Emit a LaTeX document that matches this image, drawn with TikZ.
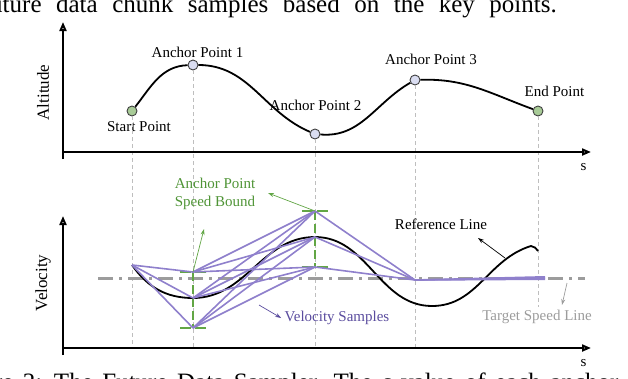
\documentclass[tikz,border=0pt]{standalone}
\usepackage{fontspec}
\setmainfont{Liberation Serif}
\usetikzlibrary{arrows.meta,positioning}
\definecolor{Lavender}{HTML}{DADDF1}
\definecolor{Sage}{HTML}{A8CB97}
\definecolor{BoundGreen}{HTML}{62A645}
\definecolor{BoundText}{HTML}{4F9436}
\definecolor{SampleViolet}{HTML}{8F80CC}
\definecolor{SampleText}{HTML}{5A4C9E}
\definecolor{TargetGray}{HTML}{9C9C9C}
\definecolor{GuideGray}{HTML}{BEBEBE}

\begin{document}
\begin{tikzpicture}[x=1pt,y=-1pt,font=\fontsize{15}{18}\selectfont,
    axis/.style={line width=2pt,-{Triangle[open,length=9pt,width=7pt]}},
    axislbl/.style={rotate=90,font=\fontsize{17}{20}\selectfont},
    keypt/.style={circle,draw=black!75,line width=0.9pt,minimum size=10pt,inner sep=0pt},
    guide/.style={GuideGray,line width=0.7pt,dash pattern=on 4pt off 3pt},
    sample/.style={SampleViolet,line width=1.6pt},
    bound/.style={BoundGreen,line width=2pt,dash pattern=on 9pt off 4pt},
    boundcap/.style={BoundGreen,line width=2pt,dash pattern=on 11pt off 4pt},
    target/.style={TargetGray,line width=3pt,dash pattern=on 15pt off 6pt on 3pt off 6pt},
    pointer/.style={-{Stealth[length=6pt,width=4pt]},line width=0.7pt},
    caption/.style={inner sep=0pt,font=\fontsize{25}{30}\selectfont}]
  \useasboundingbox (0,0) rectangle (628,378);

  % caption lines cut by the crop
  \node[caption,anchor=base east] (captop) at (557,12.5)
    {\spaceskip=14.5pt future data chunk samples based on the key points.};
  \node[caption,anchor=base west] (capbot) at (-52,390)
    {\spaceskip=9.5pt Figure 2: The Future Data Sampler. The \textit{s} value of each anchor};

  % altitude profile
  \coordinate (altbase) at (63,159);
  \coordinate (alttip) at (63,22);
  \coordinate (s1org) at (63,152);
  \coordinate (s1tip) at (591,152);

  \node[keypt,fill=Sage] (startpt) at (132,111) {};
  \node[keypt,fill=Lavender] (anchor1) at (193,65) {};
  \node[keypt,fill=Lavender] (anchor2) at (315,134) {};
  \node[keypt,fill=Lavender] (anchor3) at (415,80) {};
  \node[keypt,fill=Sage] (endpt) at (538,111) {};

  \node[anchor=base] (lblstart) at (139,131) {Start Point};
  \node[anchor=base] (lbla1) at (197.5,57) {Anchor Point 1};
  \node[anchor=base] (lbla2) at (315.5,110) {Anchor Point 2};
  \node[anchor=base] (lbla3) at (431,64) {Anchor Point 3};
  \node[anchor=base] (lblend) at (554.5,96) {End Point};

  \draw[line width=1.8pt] (startpt) to[out=52,in=182] (anchor1)
    to[out=0,in=157] (anchor2) to[out=-5,in=210] (anchor3)
    to[out=2,in=160] (endpt);

  % velocity profile
  \coordinate (velbase) at (63,355);
  \coordinate (veltip) at (63,216);
  \coordinate (s2org) at (63,348);
  \coordinate (s2tip) at (591,348);

  \node (tgtlbl) [TargetGray] at (537,317) {Target Speed Line};

  \foreach \p in {startpt,anchor1,anchor2,anchor3}
    \draw[guide] (\p.south) -- (\p.south |- s2org);
  \draw[guide] (endpt.south) -- (endpt.south |- tgtlbl.north);

  \draw[axis] (altbase) -- (alttip);
  \draw[axis] (s1org) -- (s1tip);
  \draw[axis] (velbase) -- (veltip);
  \draw[axis] (s2org) -- (s2tip);

  \node[axislbl] (altlbl) at (43,92.5) {Altitude};
  \node[axislbl] (vellbl) at (43,283) {Velocity};
  \node[anchor=base] (s1lbl) at (583.5,170) {s};
  \node[anchor=base] (s2lbl) at (583.5,366) {s};

  \coordinate (tgtstart) at (98,278);
  \coordinate (tgtend) at (585,278);
  \draw[target] (tgtstart) -- (tgtend);

  \coordinate (v0) at (132,265);
  \coordinate (v1hi) at (193,272);
  \coordinate (v1mid) at (193,298);
  \coordinate (v1lo) at (193,328);
  \coordinate (v2hi) at (315,211);
  \coordinate (v2mid) at (315,237);
  \coordinate (v2lo) at (315,267);
  \coordinate (v3) at (415,280);
  \coordinate (v4) at (545,278);
  \coordinate (refmin) at (432,306);
  \coordinate (refpk) at (531,246);
  \coordinate (refend) at (538,251);

  % speed bounds
  \foreach \k in {1,2} {
    \draw[bound] (v\k hi) -- (v\k lo);
    \draw[boundcap] ([xshift=-13pt]v\k hi) -- ([xshift=13pt]v\k hi);
    \draw[boundcap] ([xshift=-13pt]v\k lo) -- ([xshift=13pt]v\k lo);
  }

  \draw[line width=1.8pt] (v0) to[out=-55,in=180] (v1mid) to[out=0,in=180] (v2mid)
    to[out=0,in=180] (refmin) to[out=0,in=197] (refpk) to[out=-15,in=115] (refend);

  \foreach \a in {hi,mid,lo} {
    \draw[sample] (v0) -- (v1\a);
    \foreach \b in {hi,mid,lo}
      \draw[sample] (v1\a) -- (v2\b);
    \draw[sample] (v2\a) -- (v3);
  }
  \foreach \d in {-1.2,0,1.2}
    \draw[sample] (v3) -- ([yshift=\d pt]v4);

  % labels and pointers
  \node[BoundText,align=center] (boundlbl) at (215,194) {Anchor Point\\Speed Bound};
  \node (reflbl) at (441,224) {Reference Line};
  \node[SampleText] (samplbl) at (337,318) {Velocity Samples};

  \coordinate (boundtip1) at (204,229);
  \coordinate (boundtip2) at (268,193);
  \coordinate (reftail) at (505,258);
  \coordinate (reftip) at (478,238);
  \coordinate (samptail) at (259,305);
  \coordinate (tgttail) at (567,283);
  \coordinate (tgttip) at (562,305);

  \draw[pointer,BoundGreen] (v1hi) -- (boundtip1);
  \draw[pointer,BoundGreen] (v2hi) -- (boundtip2);
  \draw[pointer] (reftail) -- (reftip);
  \draw[pointer,SampleText] (samptail) -- (samplbl.west);
  \draw[pointer,TargetGray] (tgttail) -- (tgttip);
\end{tikzpicture}
\end{document}
